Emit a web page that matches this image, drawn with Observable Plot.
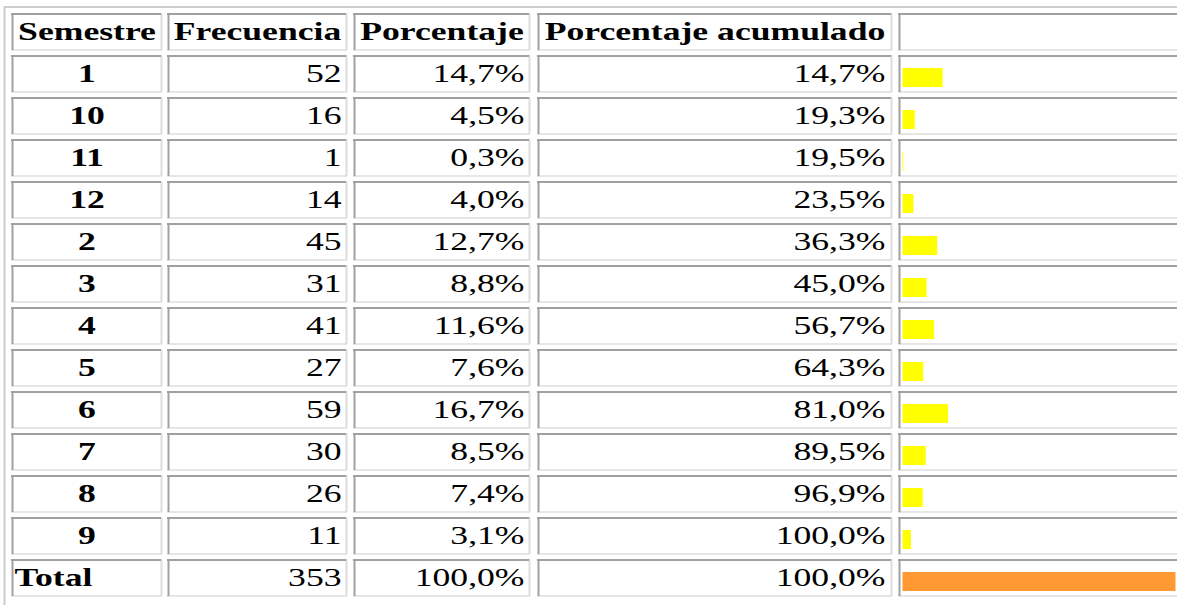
<!DOCTYPE html>
<html><head><meta charset="utf-8">
<script src="https://cdn.jsdelivr.net/npm/d3@7"></script>
<script src="https://cdn.jsdelivr.net/npm/@observablehq/plot@0.6"></script>
<style>html,body{margin:0;padding:0;background:#fff;overflow:hidden}svg{display:block}</style>
</head><body><div id="chart"></div>
<script>
// ---- data ----
const headers = ["Semestre", "Frecuencia", "Porcentaje", "Porcentaje acumulado", ""];
const semestres = ["1", "10", "11", "12", "2", "3", "4", "5", "6", "7", "8", "9"];
const frecuencias = [52, 16, 1, 14, 45, 31, 41, 27, 59, 30, 26, 11];
const porcentajes = [14.7, 4.5, 0.3, 4.0, 12.7, 8.8, 11.6, 7.6, 16.7, 8.5, 7.4, 3.1];
const acumulados = [14.7, 19.3, 19.5, 23.5, 36.3, 45.0, 56.7, 64.3, 81.0, 89.5, 96.9, 100.0];
const totalLabel = "Total";
const totalFrecuencia = 353;
const totalPorcentaje = 100.0;
const totalAcumulado = 100.0;

// ---- layout (pixels) ----
const colEdges = [[11, 162], [167, 347], [353, 530], [537, 892], [898, 1184]];
const headerKey = "__header";
const rowKeys = [headerKey, ...semestres, totalLabel];
const fontSize = 26;
const stretch = 1.37;

const fmtPct = v => v.toFixed(1).replace(".", ",") + "%";

const xOpts = {type: "linear", domain: [0, 100], range: [902.5, 1175.5], axis: null};
const X = Plot.scale({x: xOpts});
const px = v => X.invert(v);

const yOpts = {type: "band", domain: rowKeys, range: [13, 606.1], paddingInner: 0.11, paddingOuter: 0, align: 0, axis: null};
const Y = Plot.scale({y: yOpts});
const bw = Y.bandwidth;

const rows = semestres.map((s, i) => ({key: s, label: s, freq: frecuencias[i], pct: porcentajes[i], acum: acumulados[i], total: false}));
rows.push({key: totalLabel, label: totalLabel, freq: totalFrecuencia, pct: totalPorcentaje, acum: totalAcumulado, total: true});
const bodyRows = rows.filter(d => !d.total);
const totalRows = rows.filter(d => d.total);

const cells = rowKeys.flatMap(k => colEdges.map(([l, r]) => ({key: k, l, r})));
const headerCells = headers.map((h, i) => ({key: headerKey, text: h, x: (colEdges[i][0] + colEdges[i][1]) / 2}));

const font = "'Liberation Serif', 'Times New Roman', serif";

const chart = Plot.plot({
  width: 1177,
  height: 605,
  margin: 0,
  x: xOpts,
  y: yOpts,
  style: {background: "#fff", fontFamily: font},
  marks: [
    Plot.frame({stroke: "#cdcdcd", strokeWidth: 2, insetLeft: 4, insetTop: 6.5, insetRight: -30, insetBottom: -30}),
    // light bottom/right cell borders
    Plot.ruleY(cells, {y: "key", x1: d => px(d.l), x2: d => px(d.r), dy: bw / 2 - 1, stroke: "#e6e6e6", strokeWidth: 2}),
    Plot.tickX(cells, {y: "key", x: d => px(d.r - 1), stroke: "#dcdcdc", strokeWidth: 2}),
    // dark top/left cell borders
    Plot.ruleY(cells, {y: "key", x1: d => px(d.l), x2: d => px(d.r - 1), dy: -bw / 2 + 1, stroke: "#a0a0a0", strokeWidth: 2}),
    Plot.tickX(cells, {y: "key", x: d => px(d.l + 1), stroke: "#a0a0a0", strokeWidth: 2}),
    // bars
    Plot.barX(rows, {x1: 0, x2: "pct", y: "key", insetTop: 13, insetBottom: bw - 33, fill: d => d.total ? "#ff9933" : "#ffff00"}),
    // header text
    Plot.text(headerCells, {x: d => px(d.x), y: "key", text: "text", fontSize, fontWeight: "bold", fontFamily: font, fill: "#000", textAnchor: "middle"}),
    // first column
    Plot.text(bodyRows, {x: () => px((colEdges[0][0] + colEdges[0][1]) / 2), y: "key", text: "label", fontSize, fontWeight: "bold", fontFamily: font, fill: "#000", textAnchor: "middle"}),
    Plot.text(totalRows, {x: () => px(colEdges[0][0] + 3), y: "key", text: "label", fontSize, fontWeight: "bold", fontFamily: font, fill: "#000", textAnchor: "start"}),
    Plot.text(rows, {x: () => px(colEdges[1][1] - 6), y: "key", text: d => String(d.freq), fontSize, fontFamily: font, fill: "#000", textAnchor: "end"}),
    Plot.text(rows, {x: () => px(colEdges[2][1] - 6), y: "key", text: d => fmtPct(d.pct), fontSize, fontFamily: font, fill: "#000", textAnchor: "end"}),
    Plot.text(rows, {x: () => px(colEdges[3][1] - 7), y: "key", text: d => fmtPct(d.acum), fontSize, fontFamily: font, fill: "#000", textAnchor: "end"})
  ]
});

// horizontal stretch of the glyphs, as in the reference
chart.querySelectorAll('g[aria-label="text"] text').forEach(t => {
  const tr = t.getAttribute("transform") || "";
  t.setAttribute("transform", (tr + ` scale(${stretch},1)`).trim());
});

document.getElementById("chart").appendChild(chart);
</script>
</body></html>
